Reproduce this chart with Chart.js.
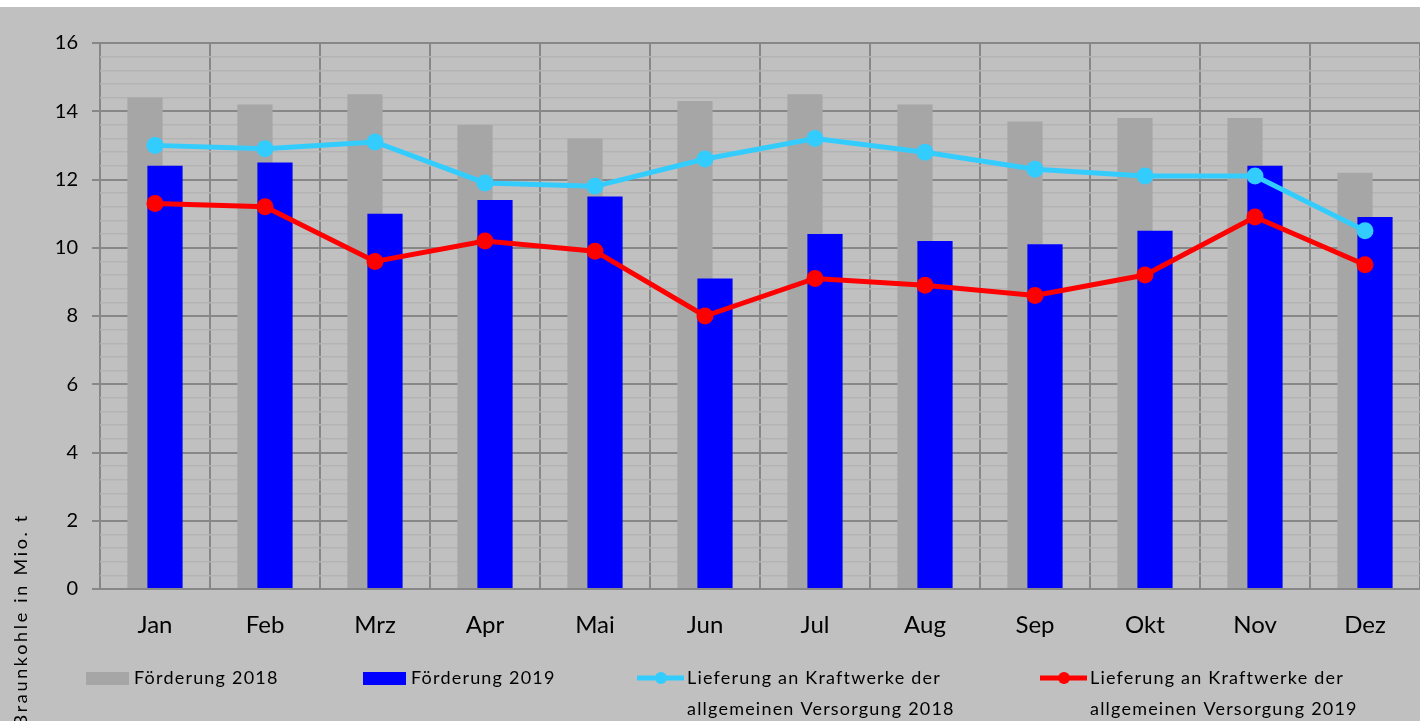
<!DOCTYPE html>
<html lang="de">
<head>
<meta charset="utf-8">
<title>Braunkohle Förderung und Lieferung</title>
<script src="https://cdn.jsdelivr.net/npm/chart.js@4/dist/chart.umd.min.js"></script>
<style>
    html, body { margin: 0; padding: 0; background: #ffffff; }
    #chart { display: block; }
</style>
</head>
<body>
<canvas id="chart" width="1420" height="721"></canvas>
<script>
// Daten (Mio. t)
const months = ['Jan', 'Feb', 'Mrz', 'Apr', 'Mai', 'Jun', 'Jul', 'Aug', 'Sep', 'Okt', 'Nov', 'Dez'];
const foerderung2018 = [14.4, 14.2, 14.5, 13.6, 13.2, 14.3, 14.5, 14.2, 13.7, 13.8, 13.8, 12.2];
const foerderung2019 = [12.4, 12.5, 11.0, 11.4, 11.5, 9.1, 10.4, 10.2, 10.1, 10.5, 12.4, 10.9];
const lieferung2018 = [13.0, 12.9, 13.1, 11.9, 11.8, 12.6, 13.2, 12.8, 12.3, 12.1, 12.1, 10.5];
const lieferung2019 = [11.3, 11.2, 9.6, 10.2, 9.9, 8.0, 9.1, 8.9, 8.6, 9.2, 10.9, 9.5];
const seriesLabels = [
    ['Förderung 2018'],
    ['Förderung 2019'],
    ['Lieferung an Kraftwerke der', 'allgemeinen Versorgung 2018'],
    ['Lieferung an Kraftwerke der', 'allgemeinen Versorgung 2019']
];
const yAxisTitle = 'Braunkohle in Mio. t';
const yMin = 0, yMax = 16, yMajorStep = 2, yMinorStep = 0.4;

const FONT = 'Lato, "Open Sans", sans-serif';
const isMajor = v => Math.abs(v / yMajorStep - Math.round(v / yMajorStep)) < 1e-6;

// gray background below the thin white strip
const background = {
    id: 'background',
    beforeDraw(chart) {
        const ctx = chart.ctx;
        ctx.save();
        ctx.fillStyle = '#c0c0c0';
        ctx.fillRect(0, 7, chart.width, chart.height - 7);
        ctx.restore();
    }
};

// bars overlap slightly, the 2018 bar sits left and behind
const barShift = {
    id: 'barShift',
    afterDatasetsUpdate(chart) {
        chart.data.datasets.forEach((ds, i) => {
            if (ds.type !== 'bar' || !ds.shift) return;
            chart.getDatasetMeta(i).data.forEach(bar => { bar.x += ds.shift; });
        });
    }
};

// y title + legend
const extras = {
    id: 'extras',
    afterDraw(chart) {
        const ctx = chart.ctx;
        ctx.save();
        ctx.fillStyle = '#000';
        ctx.font = '18px ' + FONT;
        ctx.letterSpacing = '2.7px';
        ctx.translate(21, 513);
        ctx.rotate(-Math.PI / 2);
        ctx.textAlign = 'right';
        ctx.textBaseline = 'middle';
        ctx.fillText(yAxisTitle, 0, 0);
        ctx.restore();

        const items = [
            { x: 86, textX: 134 },
            { x: 363, textX: 411 },
            { x: 637, textX: 687 },
            { x: 1040, textX: 1090 }
        ];
        const rowY = 678, lineGap = 31;
        ctx.save();
        ctx.font = '18px ' + FONT;
        ctx.letterSpacing = '1.2px';
        ctx.textBaseline = 'middle';
        ctx.textAlign = 'left';
        chart.data.datasets.forEach((ds, i) => {
            const it = items[i];
            if (ds.type === 'bar') {
                ctx.fillStyle = ds.backgroundColor;
                ctx.fillRect(it.x, rowY - 6, 43, 13);
            } else {
                ctx.strokeStyle = ds.borderColor;
                ctx.lineWidth = 5;
                ctx.beginPath();
                ctx.moveTo(it.x, rowY);
                ctx.lineTo(it.x + 47, rowY);
                ctx.stroke();
                ctx.fillStyle = ds.borderColor;
                ctx.beginPath();
                ctx.arc(it.x + 24, rowY, 6, 0, Math.PI * 2);
                ctx.fill();
            }
            ctx.fillStyle = '#000';
            seriesLabels[i].forEach((line, k) => ctx.fillText(line, it.textX, rowY + k * lineGap));
        });
        ctx.restore();
    }
};

new Chart(document.getElementById('chart').getContext('2d'), {
    data: {
        labels: months,
        datasets: [
            {
                type: 'bar',
                label: seriesLabels[0].join(' '),
                data: foerderung2018,
                backgroundColor: '#a6a6a6',
                grouped: false,
                barPercentage: 0.32,
                categoryPercentage: 1,
                shift: -10,
                order: 3
            },
            {
                type: 'bar',
                label: seriesLabels[1].join(' '),
                data: foerderung2019,
                backgroundColor: '#0000ff',
                grouped: false,
                barPercentage: 0.32,
                categoryPercentage: 1,
                shift: 10,
                order: 2
            },
            {
                type: 'line',
                label: seriesLabels[2].join(' '),
                data: lieferung2018,
                borderColor: '#33ccff',
                backgroundColor: '#33ccff',
                borderWidth: 5,
                pointRadius: 8.5,
                pointBorderWidth: 0,
                pointBackgroundColor: '#33ccff',
                tension: 0,
                order: 1
            },
            {
                type: 'line',
                label: seriesLabels[3].join(' '),
                data: lieferung2019,
                borderColor: '#ff0000',
                backgroundColor: '#ff0000',
                borderWidth: 5,
                pointRadius: 8.5,
                pointBorderWidth: 0,
                pointBackgroundColor: '#ff0000',
                tension: 0,
                order: 0
            }
        ]
    },
    options: {
        responsive: false,
        animation: false,
        devicePixelRatio: 1,
        layout: { autoPadding: false, padding: { top: 43, left: 0, right: 0, bottom: 0 } },
        plugins: {
            legend: { display: false },
            tooltip: { enabled: false }
        },
        scales: {
            x: {
                offset: true,
                grid: { offset: true, color: '#878787', lineWidth: 2, drawTicks: false },
                border: { display: false },
                ticks: { color: '#000', padding: 22, font: { family: FONT, size: 24 } },
                afterFit(scale) {
                    scale.height = 132;
                    scale.paddingLeft = 0;
                    scale.paddingRight = 0;
                }
            },
            y: {
                min: yMin,
                max: yMax,
                grid: {
                    color: ctx => isMajor(ctx.tick.value) ? '#878787' : '#b3b3b3',
                    lineWidth: ctx => isMajor(ctx.tick.value) ? 2 : 1.5,
                    tickColor: ctx => isMajor(ctx.tick.value) ? '#878787' : 'rgba(0,0,0,0)',
                    tickLength: 8
                },
                border: { display: false },
                ticks: {
                    stepSize: yMinorStep,
                    autoSkip: false,
                    color: '#000',
                    padding: 14,
                    font: { family: FONT, size: 20 },
                    callback: v => isMajor(v) ? String(Math.round(v)) : ''
                },
                afterFit(scale) { scale.width = 100; }
            }
        }
    },
    plugins: [background, barShift, extras]
});
</script>
</body>
</html>
